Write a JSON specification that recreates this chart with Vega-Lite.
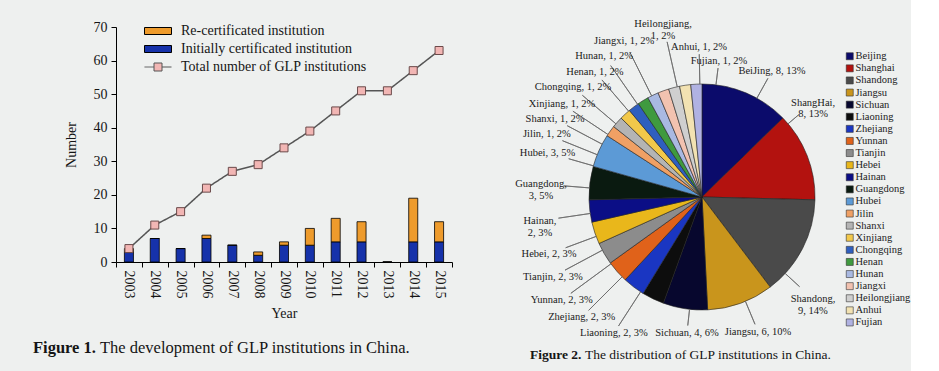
{
  "$schema": "https://vega.github.io/schema/vega-lite/v6.json",
  "background": "#eef0ef",
  "padding": {"left": 33, "top": 18, "right": 0, "bottom": 4},
  "config": {"font": "Liberation Serif", "view": {"stroke": null}},
  "bounds": "flush",
  "spacing": 473,
  "resolve": {"scale": {"fill": "independent"}, "legend": {"fill": "independent"}},
  "datasets": {
    "bars": [
      {"year": "2003", "type": "Initially certificated institution", "value": 3},
      {"year": "2003", "type": "Re-certificated institution", "value": 1},
      {"year": "2004", "type": "Initially certificated institution", "value": 7},
      {"year": "2004", "type": "Re-certificated institution", "value": 0},
      {"year": "2005", "type": "Initially certificated institution", "value": 4},
      {"year": "2005", "type": "Re-certificated institution", "value": 0},
      {"year": "2006", "type": "Initially certificated institution", "value": 7},
      {"year": "2006", "type": "Re-certificated institution", "value": 1},
      {"year": "2007", "type": "Initially certificated institution", "value": 5},
      {"year": "2007", "type": "Re-certificated institution", "value": 0},
      {"year": "2008", "type": "Initially certificated institution", "value": 2},
      {"year": "2008", "type": "Re-certificated institution", "value": 1},
      {"year": "2009", "type": "Initially certificated institution", "value": 5},
      {"year": "2009", "type": "Re-certificated institution", "value": 1},
      {"year": "2010", "type": "Initially certificated institution", "value": 5},
      {"year": "2010", "type": "Re-certificated institution", "value": 5},
      {"year": "2011", "type": "Initially certificated institution", "value": 6},
      {"year": "2011", "type": "Re-certificated institution", "value": 7},
      {"year": "2012", "type": "Initially certificated institution", "value": 6},
      {"year": "2012", "type": "Re-certificated institution", "value": 6},
      {"year": "2013", "type": "Initially certificated institution", "value": 0},
      {"year": "2013", "type": "Re-certificated institution", "value": 0},
      {"year": "2014", "type": "Initially certificated institution", "value": 6},
      {"year": "2014", "type": "Re-certificated institution", "value": 13},
      {"year": "2015", "type": "Initially certificated institution", "value": 6},
      {"year": "2015", "type": "Re-certificated institution", "value": 6}
    ],
    "totals": [
      {"year": "2003", "total": 4},
      {"year": "2004", "total": 11},
      {"year": "2005", "total": 15},
      {"year": "2006", "total": 22},
      {"year": "2007", "total": 27},
      {"year": "2008", "total": 29},
      {"year": "2009", "total": 34},
      {"year": "2010", "total": 39},
      {"year": "2011", "total": 45},
      {"year": "2012", "total": 51},
      {"year": "2013", "total": 51},
      {"year": "2014", "total": 57},
      {"year": "2015", "total": 63}
    ],
    "pie": [
      {"name": "Beijing", "count": 8, "label": "BeiJing, 8, 13%"},
      {"name": "Shanghai", "count": 8, "label": "ShangHai,\n8, 13%"},
      {"name": "Shandong", "count": 9, "label": "Shandong,\n9, 14%"},
      {"name": "Jiangsu", "count": 6, "label": "Jiangsu, 6, 10%"},
      {"name": "Sichuan", "count": 4, "label": "Sichuan, 4, 6%"},
      {"name": "Liaoning", "count": 2, "label": "Liaoning, 2, 3%"},
      {"name": "Zhejiang", "count": 2, "label": "Zhejiang, 2, 3%"},
      {"name": "Yunnan", "count": 2, "label": "Yunnan, 2, 3%"},
      {"name": "Tianjin", "count": 2, "label": "Tianjin, 2, 3%"},
      {"name": "Hebei", "count": 2, "label": "Hebei, 2, 3%"},
      {"name": "Hainan", "count": 2, "label": "Hainan,\n2, 3%"},
      {"name": "Guangdong", "count": 3, "label": "Guangdong,\n3, 5%"},
      {"name": "Hubei", "count": 3, "label": "Hubei, 3, 5%"},
      {"name": "Jilin", "count": 1, "label": "Jilin, 1, 2%"},
      {"name": "Shanxi", "count": 1, "label": "Shanxi, 1, 2%"},
      {"name": "Xinjiang", "count": 1, "label": "Xinjiang, 1, 2%"},
      {"name": "Chongqing", "count": 1, "label": "Chongqing, 1, 2%"},
      {"name": "Henan", "count": 1, "label": "Henan, 1, 2%"},
      {"name": "Hunan", "count": 1, "label": "Hunan, 1, 2%"},
      {"name": "Jiangxi", "count": 1, "label": "Jiangxi, 1, 2%"},
      {"name": "Heilongjiang", "count": 1, "label": "Heilongjiang,\n1, 2%"},
      {"name": "Anhui", "count": 1, "label": "Anhui, 1, 2%"},
      {"name": "Fujian", "count": 1, "label": "Fujian, 1, 2%"}
    ]
  },
  "hconcat": [
    {
      "title": {
        "text": "Figure 1.", "orient": "bottom", "anchor": "start", "frame": "group",
        "dx": -83, "offset": -16.5, "fontSize": 16.5, "fontWeight": "bold", "color": "#151515"
      },
      "vconcat": [
        {
          "width": 336,
          "height": 235,
          "title": {
            "text": "The development of GLP institutions in China.",
            "orient": "bottom", "anchor": "start", "frame": "group",
            "dx": -16, "offset": 20, "fontSize": 16.5, "fontWeight": "normal", "color": "#151515"
          },
          "layer": [
            {
              "data": {"name": "bars"},
              "mark": {"type": "bar", "width": {"band": 0.35}, "stroke": "#000", "strokeWidth": 0.8},
              "encoding": {
                "x": {
                  "field": "year", "type": "ordinal",
                  "scale": {"paddingInner": 0, "paddingOuter": 0},
                  "axis": {
                    "title": "Year", "labelAngle": 90, "tickBand": "extent", "tickSize": 5,
                    "labelPadding": 3, "domainColor": "#000", "tickColor": "#000",
                    "labelFontSize": 14, "titleFontSize": 14, "titleFontWeight": "normal",
                    "titlePadding": 8, "labelColor": "#151515", "titleColor": "#151515", "grid": false
                  }
                },
                "y": {
                  "field": "value", "type": "quantitative", "stack": "zero",
                  "scale": {"domain": [0, 70], "nice": false},
                  "axis": {
                    "title": "Number", "values": [0, 10, 20, 30, 40, 50, 60, 70], "tickSize": 5,
                    "labelPadding": 4, "grid": false, "domainColor": "#000", "tickColor": "#000",
                    "labelFontSize": 14, "titleFontSize": 14, "titleFontWeight": "normal",
                    "titlePadding": 15, "labelColor": "#151515", "titleColor": "#151515", "labelOverlap": false
                  }
                },
                "fill": {
                  "field": "type", "type": "nominal",
                  "scale": {
                    "domain": ["Re-certificated institution", "Initially certificated institution"],
                    "range": ["#ee9b2c", "#1632aa"]
                  },
                  "legend": {
                    "title": null, "orient": "none", "legendX": 35, "legendY": -3,
                    "symbolType": "M-2.7,-0.7H2.7V0.7H-2.7Z", "symbolSize": 100,
                    "symbolStrokeColor": "#000000", "symbolStrokeWidth": 1, "symbolOpacity": 1,
                    "labelFontSize": 14, "labelOffset": 16, "rowPadding": 4,
                    "padding": 0, "labelColor": "#151515", "labelLimit": 0
                  }
                },
                "order": {"field": "type", "type": "nominal", "sort": "ascending"}
              }
            },
            {
              "data": {"name": "totals"},
              "mark": {"type": "line", "stroke": "#555555", "strokeWidth": 1.5},
              "encoding": {
                "x": {"field": "year", "type": "ordinal", "title": "Year"},
                "y": {
                  "field": "total", "type": "quantitative", "title": "Number",
                  "axis": {
                    "title": "Number", "values": [0, 10, 20, 30, 40, 50, 60, 70], "tickSize": 5,
                    "labelPadding": 4, "grid": false, "domainColor": "#000", "tickColor": "#000",
                    "labelFontSize": 14, "titleFontSize": 14, "titleFontWeight": "normal",
                    "titlePadding": 15, "labelColor": "#151515", "titleColor": "#151515", "labelOverlap": false
                  }
                },
                "strokeDash": {
                  "datum": "Total number of GLP institutions", "type": "nominal",
                  "scale": {"range": [[1, 0]]},
                  "legend": {
                    "title": null, "orient": "none", "legendX": 35, "legendY": 33,
                    "symbolType": "M-2.7,0H-0.8M0.8,0H2.7M-0.8,-0.8H0.8V0.8H-0.8Z", "symbolSize": 100,
                    "symbolFillColor": "#f2b6b4", "symbolStrokeColor": "#555555", "symbolStrokeWidth": 1,
                    "symbolOpacity": 1, "labelFontSize": 14, "labelOffset": 16,
                    "padding": 0, "labelColor": "#151515", "labelLimit": 0
                  }
                }
              }
            },
            {
              "data": {"name": "totals"},
              "mark": {"type": "point", "shape": "square", "size": 64, "filled": true, "fill": "#f2b6b4", "stroke": "#6b4a4a", "strokeWidth": 1, "opacity": 1},
              "encoding": {
                "x": {"field": "year", "type": "ordinal", "title": "Year"},
                "y": {
                  "field": "total", "type": "quantitative", "title": "Number",
                  "axis": {
                    "title": "Number", "values": [0, 10, 20, 30, 40, 50, 60, 70], "tickSize": 5,
                    "labelPadding": 4, "grid": false, "domainColor": "#000", "tickColor": "#000",
                    "labelFontSize": 14, "titleFontSize": 14, "titleFontWeight": "normal",
                    "titlePadding": 15, "labelColor": "#151515", "titleColor": "#151515", "labelOverlap": false
                  }
                }
              }
            }
          ]
        }
      ]
    },
    {
      "title": {
        "text": "Figure 2.", "orient": "bottom", "anchor": "start", "frame": "group",
        "dx": -59, "offset": -19, "fontSize": 13.5, "fontWeight": "bold", "color": "#151515"
      },
      "vconcat": [
        {
          "width": 226,
          "height": 340,
          "data": {"name": "pie"},
          "transform": [{"window": [{"op": "row_number", "as": "idx"}]}],
          "title": {
            "text": "The distribution of GLP institutions in China.",
            "orient": "bottom", "anchor": "start", "frame": "group",
            "dx": -4, "dy": -19, "offset": 0, "fontSize": 13.5, "fontWeight": "normal", "color": "#151515"
          },
          "layer": [
            {
              "mark": {"type": "arc", "outerRadius": 113, "stroke": "#222222", "strokeWidth": 0.6},
              "encoding": {
                "theta": {"field": "count", "type": "quantitative", "stack": true},
                "order": {"field": "idx", "type": "quantitative"},
                "fill": {
                  "field": "name", "type": "nominal",
                  "scale": {
                    "domain": ["Beijing", "Shanghai", "Shandong", "Jiangsu", "Sichuan", "Liaoning", "Zhejiang", "Yunnan", "Tianjin", "Hebei", "Hainan", "Guangdong", "Hubei", "Jilin", "Shanxi", "Xinjiang", "Chongqing", "Henan", "Hunan", "Jiangxi", "Heilongjiang", "Anhui", "Fujian"],
                    "range": ["#0b0b6b", "#b3120f", "#4a4a4a", "#c9951c", "#07072e", "#0d0d0d", "#1a36c2", "#e0621a", "#8c8c8c", "#e9b71b", "#0b0e86", "#0a1a10", "#5c9ad6", "#f0a064", "#b4b4b4", "#f2c84a", "#2f5fbf", "#3f9a3f", "#a9b9e2", "#f2c2b0", "#cfcfcf", "#f2e2b2", "#b0b2e2"]
                  },
                  "legend": {
                    "title": null, "orient": "none", "legendX": 255.5, "legendY": 24,
                    "symbolType": "square", "symbolSize": 49, "symbolStrokeColor": "#333333",
                    "symbolStrokeWidth": 0.6, "symbolOpacity": 1, "labelFontSize": 10.5,
                    "rowPadding": 1.1, "padding": 0, "labelOffset": 0.5, "labelColor": "#222222", "labelLimit": 0
                  }
                }
              }
            },
            {
              "mark": {"type": "arc", "filled": false, "stroke": "#6a6a6a", "strokeWidth": 0.8},
              "encoding": {
                "theta": {
                  "field": "idx", "type": "quantitative",
                  "scale": {"type": "linear", "zero": false, "nice": false,
                    "domain": [1, 2, 3, 4, 5, 6, 7, 8, 9, 10, 11, 12, 13, 14, 15, 16, 17, 18, 19, 20, 21, 22, 23],
                    "range": [0.507, 0.866, 2.314, 2.747, 3.252, 3.716, 3.927, 4.079, 4.222, 4.356, 4.566, 4.793, 4.992, 5.096, 5.199, 5.299, 5.417, 5.576, 5.676, 5.821, 6.062, 6.264, 6.407]}
                },
                "theta2": {"field": "idx"},
                "radius": {
                  "field": "idx", "type": "quantitative",
                  "scale": {"type": "linear", "zero": false, "nice": false,
                    "domain": [1, 2, 3, 4, 5, 6, 7, 8, 9, 10, 11, 12, 13, 14, 15, 16, 17, 18, 19, 20, 21, 22, 23],
                    "range": [135.8, 126.8, 132.5, 137.9, 129.3, 153.7, 160.3, 162.7, 155.3, 145.5, 145.1, 138.9, 138.7, 150.5, 152.5, 155, 157, 154, 160, 162, 159, 142.8, 129.9]}
                },
                "radius2": {"value": 113}
              }
            },
            {
              "mark": {"type": "text", "fontSize": 10.5, "lineBreak": "\n", "lineHeight": 11.7, "align": "center", "baseline": "middle", "color": "#1a1a1a"},
              "encoding": {
                "theta": {
                  "field": "idx", "type": "quantitative", "stack": null,
                  "scale": {"type": "linear", "zero": false, "nice": false,
                    "domain": [1, 2, 3, 4, 5, 6, 7, 8, 9, 10, 11, 12, 13, 14, 15, 16, 17, 18, 19, 20, 21, 22, 23],
                    "range": [0.507, 0.866, 2.314, 2.747, 3.252, 3.716, 3.927, 4.079, 4.222, 4.356, 4.566, 4.793, 4.992, 5.096, 5.199, 5.299, 5.417, 5.576, 5.676, 5.821, 6.062, 6.264, 6.407]}
                },
                "radius": {
                  "field": "idx", "type": "quantitative",
                  "scale": {"type": "linear", "zero": false, "nice": false,
                    "domain": [1, 2, 3, 4, 5, 6, 7, 8, 9, 10, 11, 12, 13, 14, 15, 16, 17, 18, 19, 20, 21, 22, 23],
                    "range": [144.1, 145.8, 150.7, 145.9, 136.8, 162.2, 170.1, 174, 169, 163.3, 163.8, 161.5, 160.7, 167.2, 166.3, 168.1, 169.3, 164.8, 171.7, 174.7, 177.5, 150.3, 137.4]}
                },
                "text": {"field": "label", "type": "nominal"}
              }
            }
          ],
          "resolve": {"scale": {"theta": "independent", "radius": "independent"}}
        }
      ]
    }
  ]
}
